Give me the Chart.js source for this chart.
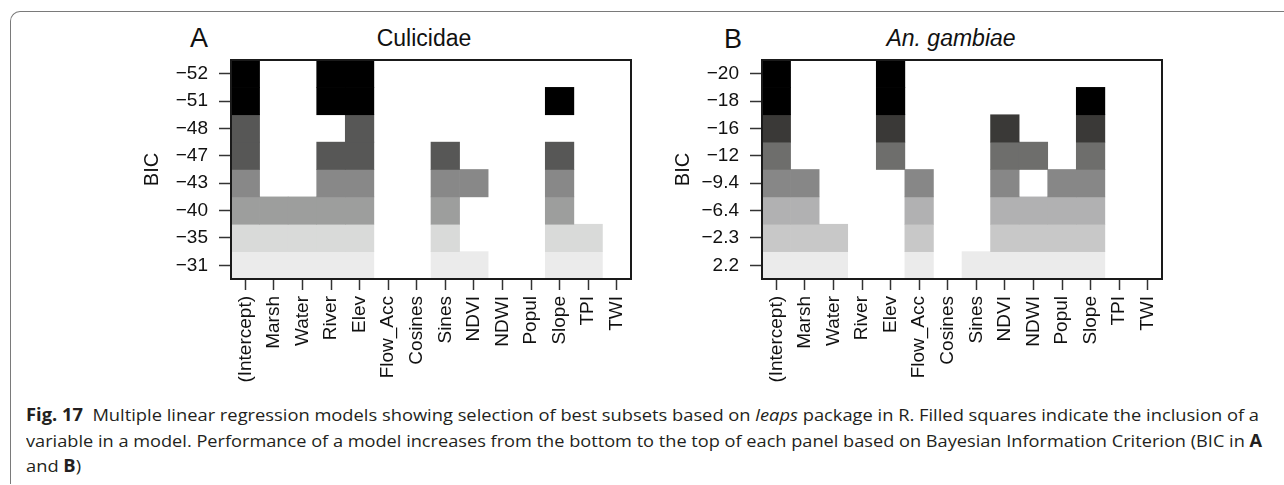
<!DOCTYPE html>
<html>
<head>
<meta charset="utf-8">
<script src="https://cdn.jsdelivr.net/npm/chart.js@4"></script>
<style>
  html, body { margin: 0; padding: 0; background: #fff; }
  #page { position: relative; width: 1284px; height: 485px; overflow: hidden; background: #fff; }
  #frame {
    position: absolute; left: 10px; top: 11px; width: 1290px; height: 472px;
    border-top: 1.5px solid #7a7a7a; border-left: 1.5px solid #7a7a7a;
    border-top-left-radius: 10px;
  }
  canvas { position: absolute; }
  .lbl { position: absolute; font-family: "Liberation Sans", Arial, sans-serif; color: #111;
         white-space: nowrap; transform: translate(-50%, -50%); line-height: 1; }
  .letter { font-size: 27px; }
  .ttl { font-size: 23px; }
  .cap { position: absolute; left: 26px; font-family: "Open Sans", "Noto Sans", sans-serif;
         font-size: 17px; line-height: 26px; color: #231f20; white-space: nowrap;
         transform-origin: 0 0; }
  .cap b { font-weight: 700; }
</style>
</head>
<body>
<div id="page">
  <div id="frame"></div>

  <div class="lbl letter" style="left:199px; top:38px;">A</div>
  <div class="lbl ttl" style="left:424px; top:38px;">Culicidae</div>
  <div class="lbl letter" style="left:733px; top:39px;">B</div>
  <div class="lbl ttl" style="left:951px; top:38px;"><i>An. gambiae</i></div>

  <canvas id="chartA" width="540" height="380" style="left:120px; top:20px;"></canvas>
  <canvas id="chartB" width="540" height="380" style="left:651px; top:20px;"></canvas>

  <div class="cap" id="cap1" style="top:402px;"><b>Fig. 17</b>&nbsp; Multiple linear regression models showing selection of best subsets based on <i>leaps</i> package in R. Filled squares indicate the inclusion of a</div>
  <div class="cap" id="cap2" style="top:428px;">variable in a model. Performance of a model increases from the bottom to the top of each panel based on Bayesian Information Criterion (BIC in <b>A</b></div>
  <div class="cap" id="cap3" style="top:453px;">and <b>B</b>)</div>
</div>

<script>
// variables tested in the subsets (x axis)
const variables = ['(Intercept)', 'Marsh', 'Water', 'River', 'Elev', 'Flow_Acc', 'Cosines',
                   'Sines', 'NDVI', 'NDWI', 'Popul', 'Slope', 'TPI', 'TWI'];

// panel A - Culicidae, rows from top (best BIC) to bottom
const bicCulicidae = ['\u221252', '\u221251', '\u221248', '\u221247', '\u221243', '\u221240', '\u221235', '\u221231'];
const modelsCulicidae = [
  [1, 0, 0, 1, 1, 0, 0, 0, 0, 0, 0, 0, 0, 0],
  [1, 0, 0, 1, 1, 0, 0, 0, 0, 0, 0, 1, 0, 0],
  [1, 0, 0, 0, 1, 0, 0, 0, 0, 0, 0, 0, 0, 0],
  [1, 0, 0, 1, 1, 0, 0, 1, 0, 0, 0, 1, 0, 0],
  [1, 0, 0, 1, 1, 0, 0, 1, 1, 0, 0, 1, 0, 0],
  [1, 1, 1, 1, 1, 0, 0, 1, 0, 0, 0, 1, 0, 0],
  [1, 1, 1, 1, 1, 0, 0, 1, 0, 0, 0, 1, 1, 0],
  [1, 1, 1, 1, 1, 0, 0, 1, 1, 0, 0, 1, 1, 0]
];

// panel B - An. gambiae
const bicGambiae = ['\u221220', '\u221218', '\u221216', '\u221212', '\u22129.4', '\u22126.4', '\u22122.3', '2.2'];
const modelsGambiae = [
  [1, 0, 0, 0, 1, 0, 0, 0, 0, 0, 0, 0, 0, 0],
  [1, 0, 0, 0, 1, 0, 0, 0, 0, 0, 0, 1, 0, 0],
  [1, 0, 0, 0, 1, 0, 0, 0, 1, 0, 0, 1, 0, 0],
  [1, 0, 0, 0, 1, 0, 0, 0, 1, 1, 0, 1, 0, 0],
  [1, 1, 0, 0, 0, 1, 0, 0, 1, 0, 1, 1, 0, 0],
  [1, 1, 0, 0, 0, 1, 0, 0, 1, 1, 1, 1, 0, 0],
  [1, 1, 1, 0, 0, 1, 0, 0, 1, 1, 1, 1, 0, 0],
  [1, 1, 1, 0, 0, 1, 0, 1, 1, 1, 1, 1, 0, 0]
];

// grey shades per row (styles)
const shadesCulicidae = ['#000000', '#000000', '#575756', '#575756', '#888888', '#9d9e9d', '#d9dad9', '#ebebeb'];
const shadesGambiae = ['#000000', '#000000', '#3a3937', '#6e6e6c', '#878787', '#b1b1b2', '#c8c8c8', '#ebebeb'];

Chart.defaults.font.family = '"Liberation Sans", Arial, sans-serif';
Chart.defaults.color = '#111';

// box round the plot region, like R
const boxPlugin = {
  id: 'plotBox',
  afterDatasetsDraw(chart) {
    const a = chart.chartArea;
    const c = chart.ctx;
    c.save();
    c.strokeStyle = '#1a1a1a';
    c.lineWidth = 2;
    c.strokeRect(a.left, a.top, a.right - a.left, a.bottom - a.top);
    c.restore();
  }
};

function makePanel(canvasId, bic, models, shades) {
  const nRows = bic.length;
  const datasets = models.map((row, i) => ({
    label: bic[i],
    // each filled cell is a floating bar covering its BIC row
    data: row.map(v => v ? [nRows - 1 - i, nRows - i] : null),
    backgroundColor: shades[i],
    borderWidth: 0,
    barPercentage: 1,
    categoryPercentage: 1
  }));

  new Chart(document.getElementById(canvasId), {
    type: 'bar',
    data: { labels: variables, datasets: datasets },
    options: {
      responsive: false,
      animation: false,
      grouped: false,
      layout: { padding: { top: 40, right: 29, left: 0, bottom: 0 } },
      plugins: { legend: { display: false }, tooltip: { enabled: false } },
      scales: {
        x: {
          type: 'category',
          grid: { offset: false, drawOnChartArea: false, tickLength: 11, tickWidth: 1.5, tickColor: '#333' },
          border: { display: false },
          ticks: { autoSkip: false, minRotation: 90, maxRotation: 90, padding: 6,
                   font: { size: 19 }, color: '#111' },
          afterFit(scale) { scale.height = 121; }
        },
        y: {
          type: 'linear',
          min: 0,
          max: nRows,
          grid: { drawOnChartArea: false, tickLength: 12, tickWidth: 1.5, tickColor: '#333' },
          border: { display: false },
          afterBuildTicks(scale) {
            scale.ticks = bic.map((b, i) => ({ value: nRows - 0.5 - i }));
          },
          ticks: {
            padding: 11,
            font: { size: 19 },
            color: '#111',
            callback: v => bic[Math.round(nRows - 0.5 - v)]
          },
          title: { display: true, text: 'BIC', font: { size: 20 }, color: '#111',
                   padding: { top: 20, bottom: 0 } },
          afterFit(scale) { scale.width = 111; }
        }
      }
    },
    plugins: [boxPlugin]
  });
}

makePanel('chartA', bicCulicidae, modelsCulicidae, shadesCulicidae);
makePanel('chartB', bicGambiae, modelsGambiae, shadesGambiae);

// caption set in a narrower face: fit each line to the width it has in the figure
function fitCaption() {
  const l1 = document.getElementById('cap1');
  const l2 = document.getElementById('cap2');
  const l3 = document.getElementById('cap3');
  const s1 = 1233 / l1.scrollWidth;
  const s2 = 1236 / l2.scrollWidth;
  l1.style.transform = 'scaleX(' + s1 + ')';
  l2.style.transform = 'scaleX(' + s2 + ')';
  l3.style.transform = 'scaleX(' + s1 + ')';
}
if (document.fonts && document.fonts.ready) {
  document.fonts.ready.then(fitCaption);
} else {
  fitCaption();
}
</script>
</body>
</html>
